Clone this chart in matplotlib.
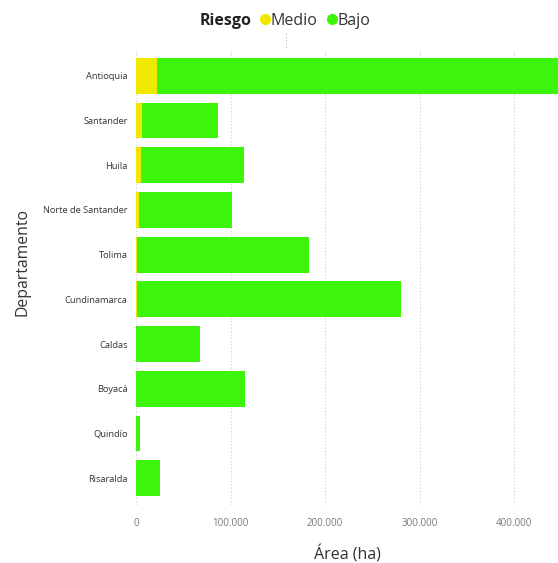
import matplotlib.pyplot as plt
from matplotlib.ticker import FuncFormatter
from matplotlib.lines import Line2D

plt.rcParams['font.family'] = ['Open Sans', 'DejaVu Sans']

departamentos = ["Antioquia", "Santander", "Huila", "Norte de Santander", "Tolima",
                 "Cundinamarca", "Caldas", "Boyacá", "Quindío", "Risaralda"]
area_medio = [22000, 6000, 5500, 3200, 1000, 1000, 0, 500, 0, 0]
area_bajo = [440000, 80500, 109000, 98400, 182000, 279400, 67700, 114800, 4200, 25400]

COLOR_MEDIO = "#F0E800"
COLOR_BAJO = "#3CF50A"
X_MAX = 446500
MARKER_X = 158700   # short dotted marker above the first bar

fig = plt.figure(figsize=(5.58, 5.63), dpi=100)
ax = fig.add_axes([0.2437, 0.103, 0.7563, 0.81])

ypos = list(range(len(departamentos)))
ax.barh(ypos, area_medio, height=0.8, color=COLOR_MEDIO, zorder=3)
ax.barh(ypos, area_bajo, left=area_medio, height=0.8, color=COLOR_BAJO, zorder=3)

ax.set_ylim(len(departamentos) - 0.4, -0.6)
ax.set_xlim(0, X_MAX)
ax.set_yticks(ypos)
ax.set_yticklabels(departamentos, fontsize=6.7, color="#333333")
ax.set_xticks([0, 100000, 200000, 300000, 400000])
ax.xaxis.set_major_formatter(FuncFormatter(lambda v, p: f"{int(v):,}".replace(",", ".")))
ax.tick_params(axis="x", labelsize=7, colors="#777777", length=0, pad=9)
ax.tick_params(axis="y", length=0, pad=6)
ax.grid(axis="x", linestyle=(0, (1, 2)), color="#cccccc", linewidth=0.8, zorder=0)
for s in ax.spines.values():
    s.set_visible(False)

ax.plot([MARKER_X, MARKER_X], [-0.95, -0.6], linestyle=(0, (1, 2)),
        color="#bbbbbb", linewidth=0.8, clip_on=False)

ax.set_xlabel("Área (ha)", fontsize=11.5, color="#333333", labelpad=12)
ax.set_ylabel("Departamento", fontsize=11.3, color="#333333")
ax.yaxis.set_label_coords(-0.251, 0.533)

handles = [Line2D([], [], marker="o", linestyle="", color=COLOR_MEDIO, markersize=7),
           Line2D([], [], marker="o", linestyle="", color=COLOR_BAJO, markersize=7)]
fig.text(0.357, 0.963, "Riesgo", fontsize=11.5, fontweight="bold", color="#222222",
         ha="left", va="center")
fig.legend(handles, ["Medio", "Bajo"], loc="center left", bbox_to_anchor=(0.4535, 0.963),
           ncol=2, frameon=False, fontsize=11.5, handletextpad=0.0, columnspacing=0.55,
           borderaxespad=0, handlelength=0.7, labelcolor="#333333")

fig.savefig("out.png", dpi=100)
